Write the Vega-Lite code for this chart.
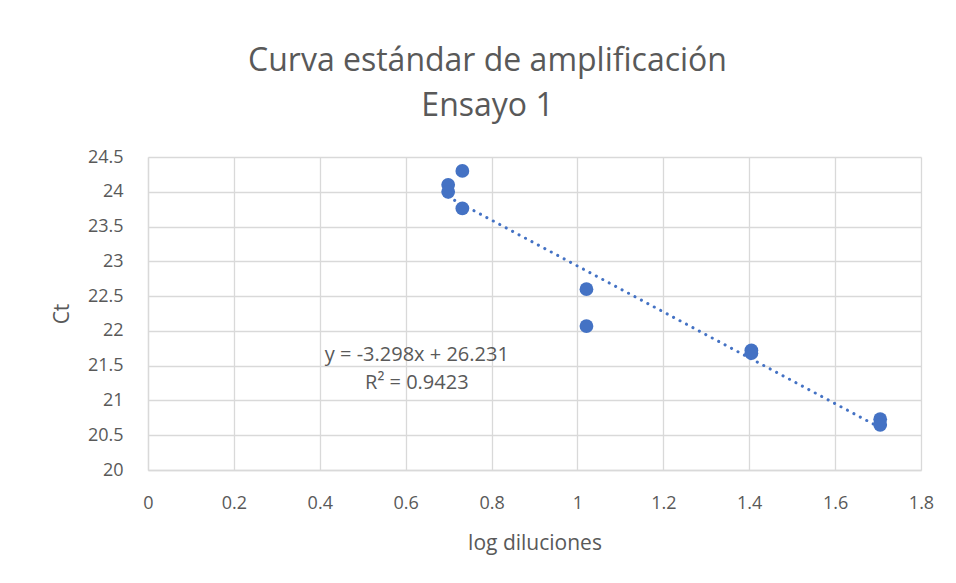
{
  "$schema": "https://vega.github.io/schema/vega-lite/v6.json",
  "width": 773,
  "height": 313,
  "autosize": {"type": "none"},
  "padding": {"left": 148, "top": 157, "right": 35, "bottom": 113},
  "background": "white",
  "config": {
    "view": {"stroke": null},
    "font": "Open Sans",
    "axis": {
      "gridColor": "#d9d9d9",
      "gridWidth": 1.3,
      "domainColor": "#d9d9d9",
      "domainWidth": 1.3,
      "ticks": false,
      "labelColor": "#595959",
      "labelFontSize": 18,
      "labelFont": "Open Sans",
      "labelOverlap": false,
      "titleColor": "#595959",
      "titleFontSize": 21,
      "titleFontWeight": "normal",
      "titleFont": "Open Sans"
    }
  },
  "title": {
    "text": ["Curva estándar de amplificación", "Ensayo 1"],
    "fontSize": 32,
    "font": "Open Sans",
    "fontWeight": "normal",
    "color": "#595959",
    "lineHeight": 45,
    "dx": -47,
    "offset": 25
  },
  "datasets": {
    "pts": [
      {"x": 0.699, "y": 24.10},
      {"x": 0.699, "y": 24.00},
      {"x": 0.732, "y": 24.30},
      {"x": 0.732, "y": 23.76},
      {"x": 1.021, "y": 22.60},
      {"x": 1.021, "y": 22.07},
      {"x": 1.405, "y": 21.72},
      {"x": 1.405, "y": 21.68},
      {"x": 1.705, "y": 20.73},
      {"x": 1.705, "y": 20.65}
    ],
    "trend": [
      {"x": 0.699, "y": 23.926},
      {"x": 1.705, "y": 20.608}
    ],
    "eq": [
      {"x": 0.626, "y": 21.66, "label": "y = -3.298x + 26.231"},
      {"x": 0.626, "y": 21.25, "label": "R² = 0.9423"}
    ]
  },
  "encoding": {
    "x": {"field": "x", "type": "quantitative", "scale": {"domain": [0, 1.8], "nice": false},
      "axis": {"title": "log diluciones", "values": [0, 0.2, 0.4, 0.6, 0.8, 1, 1.2, 1.4, 1.6, 1.8], "format": "~g", "labelPadding": 24, "titlePadding": 20, "labelFlush": false}},
    "y": {"field": "y", "type": "quantitative", "scale": {"domain": [20, 24.5], "nice": false, "zero": false},
      "axis": {"title": "Ct", "values": [20, 20.5, 21, 21.5, 22, 22.5, 23, 23.5, 24, 24.5], "tickCount": 10, "format": "~g", "labelPadding": 25, "titlePadding": 15, "labelFlush": false}}
  },
  "layer": [
    {
      "data": {"name": "trend"},
      "mark": {"type": "line", "color": "#4472C4", "strokeWidth": 3, "strokeDash": [0.1, 7.2], "strokeCap": "round"}
    },
    {
      "data": {"name": "pts"},
      "mark": {"type": "circle", "color": "#4472C4", "opacity": 1, "size": 190}
    },
    {
      "data": {"name": "eq"},
      "mark": {"type": "text", "fontSize": 20, "color": "#595959", "font": "Open Sans", "align": "center", "baseline": "middle"},
      "encoding": {
        "text": {"field": "label"}
      }
    }
  ]
}
